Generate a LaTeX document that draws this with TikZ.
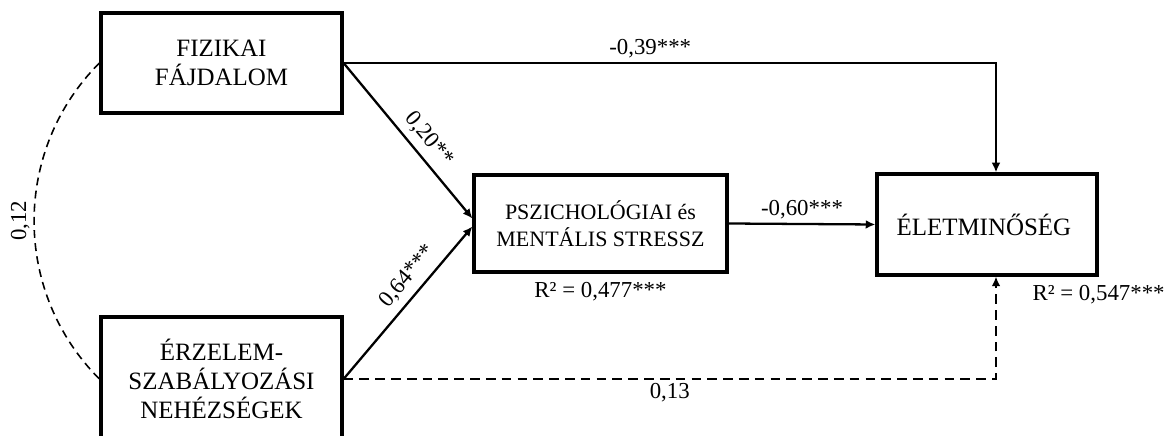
\documentclass[tikz,border=0pt]{standalone}
\usepackage{fontspec}
\setmainfont{Liberation Serif}
\usetikzlibrary{arrows.meta}
\usetikzlibrary{positioning}

\begin{document}
\begin{tikzpicture}[
            >={Latex[length=5.5pt,width=5pt]},
            construct/.style={rectangle, draw, line width=1.8pt, align=center, inner sep=2pt,
                            font=\fontsize{14.2}{16.5}\selectfont},
            path arrow/.style={->, line width=1.3pt},
            dashed arrow/.style={->, line width=1pt, dash pattern=on 5.5pt off 3.5pt},
            coef/.style={font=\fontsize{13}{14}\selectfont, inner sep=2pt},
        ]

        \useasboundingbox (0,0) rectangle (23.32,8.72);

        % Predictors (left)
        \node[construct, minimum width=4.82cm, minimum height=2cm] (fizikai) at (4.43, 7.46) {
            FIZIKAI \\ FÁJDALOM
        };
        \node[construct, minimum width=4.82cm, minimum height=2.48cm] (erzelem) at (4.43, 1.14) {
            ÉRZELEM- \\ SZABÁLYOZÁSI \\ NEHÉZSÉGEK
        };

        % Mediator
        \node[construct, minimum width=5.06cm, minimum height=1.94cm,
              font=\fontsize{12.5}{15.4}\selectfont] (pszich) at (12.01, 4.25) {
            PSZICHOLÓGIAI és \\ MENTÁLIS STRESSZ
        };

        % Outcome
        \node[construct, minimum width=4.4cm, minimum height=2.02cm] (elet) at (19.74, 4.23) {
            ÉLETMINŐSÉG
        };

        % Direct paths
        \draw[path arrow] (fizikai.east) -| ([xshift=0.18cm]elet.north)
            node[coef, pos=0.235, above] {-0,39***};
        \draw[path arrow] (fizikai.east) -- ([yshift=0.1cm]pszich.west)
            node[coef, pos=0.56, sloped, above, inner sep=4pt] {0,20**};
        \draw[path arrow] (erzelem.east) -- ([yshift=-0.06cm]pszich.west)
            node[coef, pos=0.6, sloped, above, inner sep=4pt] {0,64***};
        \draw[path arrow] (pszich.east) -- (elet.west)
            node[coef, midway, above] {-0,60***};

        % Non-significant path
        \draw[dashed arrow] (erzelem.east) -| ([xshift=0.18cm]elet.south)
            node[coef, pos=0.25, below] {0,13};

        % Covariance between predictors
        \draw[line width=0.9pt, dash pattern=on 4.5pt off 3pt] (fizikai.west) to[bend right=45]
            node[coef, midway, rotate=90, anchor=south] {0,12} (erzelem.west);

        % Explained variance
        \node[coef, below=0.1cm of pszich.south] (rpszich) {R² = 0,477***};
        \node[coef, below=0.1cm of elet.south east] (relet) {R² = 0,547***};

        \end{tikzpicture}
\end{document}
